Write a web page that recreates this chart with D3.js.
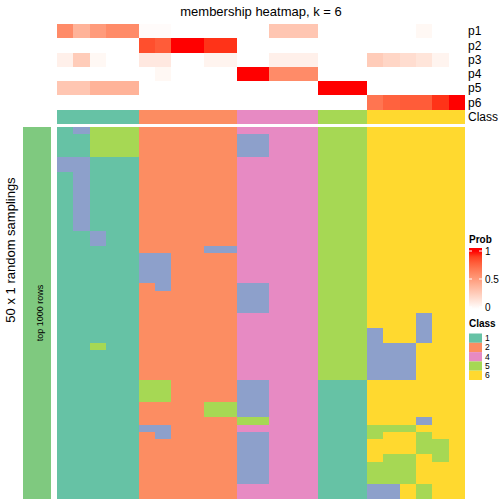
<!DOCTYPE html>
<html><head><meta charset="utf-8">
<script src="https://cdn.jsdelivr.net/npm/d3@7"></script>
<style>html,body{margin:0;padding:0;background:#fff}svg{display:block;font-family:"Liberation Sans",Arial,Helvetica,sans-serif}</style>
</head><body><svg id="chart" width="504" height="504"></svg>
<script>
// ---------- data ----------
const title = "membership heatmap, k = 6";
const probRows = ["p1","p2","p3","p4","p5","p6"];
const p1 = [0.60,0.40,0.52,0.60,0.60, 0.02,0.02,0,0,0,0, 0,0,0.30,0.30,0.30, 0,0,0, 0,0,0,0.04,0,0];
const p2 = [0,0,0,0,0, 0.85,0.80,1,1,0.93,0.93, 0,0,0,0,0, 0,0,0, 0,0,0,0,0,0];
const p3 = [0.08,0.27,0.04,0,0, 0.12,0.12,0,0,0.06,0.06, 0,0,0.08,0.08,0.08, 0,0,0, 0.27,0.22,0.18,0.14,0.06,0];
const p4 = [0,0,0,0,0, 0,0.04,0,0,0,0, 1,1,0.60,0.60,0.60, 0,0,0, 0,0,0,0,0,0];
const p5 = [0.30,0.30,0.40,0.40,0.40, 0,0,0,0,0,0, 0,0,0,0,0, 1,1,1, 0,0,0,0,0,0];
const p6 = [0,0,0,0,0, 0,0,0,0,0,0, 0,0,0,0,0, 0,0,0, 0.70,0.78,0.80,0.80,0.93,1];
const classRow = [1,1,1,1,1, 2,2,2,2,2,2, 4,4,4,4,4, 5,5,5, 6,6,6,6,6,6];
// 50 random samplings x 25 samples (class per cell)
const samplings = [
"13555"+"222222"+"44444"+"555"+"666666",
"11555"+"222222"+"33444"+"555"+"666666",
"11555"+"222222"+"33444"+"555"+"666666",
"11555"+"222222"+"33444"+"555"+"666666",
"33111"+"222222"+"44444"+"555"+"666666",
"33111"+"222222"+"44444"+"555"+"666666",
"13111"+"222222"+"44444"+"555"+"666666",
"13111"+"222222"+"44444"+"555"+"666666",
"13111"+"222222"+"44444"+"555"+"666666",
"13111"+"222222"+"44444"+"555"+"666666",
"13111"+"222222"+"44444"+"555"+"666666",
"13111"+"222222"+"44444"+"555"+"666666",
"13111"+"222222"+"44444"+"555"+"666666",
"13111"+"222222"+"44444"+"555"+"666666",
"11311"+"222222"+"44444"+"555"+"666666",
"11311"+"222222"+"44444"+"555"+"666666",
"11111"+"222233"+"44444"+"555"+"666666",
"11111"+"332222"+"44444"+"555"+"666666",
"11111"+"332222"+"44444"+"555"+"666666",
"11111"+"332222"+"44444"+"555"+"666666",
"11111"+"332222"+"44444"+"555"+"666666",
"11111"+"232222"+"33444"+"555"+"666666",
"11111"+"222222"+"33444"+"555"+"666666",
"11111"+"222222"+"33444"+"555"+"666666",
"11111"+"222222"+"33444"+"555"+"666666",
"11111"+"222222"+"44444"+"555"+"666366",
"11111"+"222222"+"44444"+"555"+"666366",
"11111"+"222222"+"44444"+"555"+"366366",
"11111"+"222222"+"44444"+"555"+"366366",
"11511"+"222222"+"44444"+"555"+"333666",
"11111"+"222222"+"44444"+"555"+"333666",
"11111"+"222222"+"44444"+"555"+"333666",
"11111"+"222222"+"44444"+"555"+"333666",
"11111"+"222222"+"44444"+"555"+"333666",
"11111"+"552222"+"33444"+"111"+"666666",
"11111"+"552222"+"33444"+"111"+"666666",
"11111"+"552222"+"33444"+"111"+"666666",
"11111"+"222255"+"33444"+"111"+"666666",
"11111"+"222255"+"33444"+"111"+"666666",
"11111"+"222222"+"55444"+"111"+"666366",
"11111"+"332222"+"44444"+"111"+"555666",
"11111"+"232222"+"33444"+"111"+"566566",
"11111"+"222222"+"33444"+"111"+"666556",
"11111"+"222222"+"33444"+"111"+"666556",
"11111"+"222222"+"33444"+"111"+"655656",
"11111"+"222222"+"33444"+"111"+"555666",
"11111"+"222222"+"33444"+"111"+"555666",
"11111"+"222222"+"33444"+"111"+"555666",
"11111"+"222222"+"44444"+"111"+"336566",
"11111"+"222222"+"44444"+"111"+"336566"
];
const classKeys = [1,2,3,4,5,6];
const classColors = ["#66C2A5","#FC8D62","#8DA0CB","#E78AC3","#A6D854","#FFD92F"];
const legendClasses = [1,2,4,5,6];
const probTicks = [1,0.5,0];
const rowTitle = "50 x 1 random samplings";
const sideLabel = "top 1000 rows";

// ---------- drawing ----------
const svg = d3.select("#chart");
const nCol = classRow.length;
const cols = d3.range(nCol);
const x = d3.scaleBand().domain(cols).range([57,465]).padding(0);
const yProb = d3.scaleBand().domain(probRows).range([24,109.5]).padding(0);
const yClassTop = [110,124];
const ySamp = d3.scaleBand().domain(d3.range(samplings.length)).range([127,499]).padding(0);
const probColor = d3.scaleLinear().domain([0,1]).range(["#ffffff","#ff0000"]).interpolate(d3.interpolateLab);
const classColor = d3.scaleOrdinal().domain(classKeys).range(classColors);

svg.append("text").attr("x",261).attr("y",16).attr("text-anchor","middle")
  .attr("font-size",13).attr("fill","#000").text(title);

// probability rows
const probData = [p1,p2,p3,p4,p5,p6];
const gP = svg.append("g").attr("shape-rendering","crispEdges");
probData.forEach((arr,ri)=>{
  gP.selectAll(null).data(arr).enter().append("rect")
    .attr("x",(d,i)=>x(i)).attr("width",x.bandwidth())
    .attr("y",yProb(probRows[ri])).attr("height",yProb.bandwidth())
    .attr("fill",d=>probColor(d));
});
// class row
gP.selectAll(null).data(classRow).enter().append("rect")
  .attr("x",(d,i)=>x(i)).attr("width",x.bandwidth())
  .attr("y",yClassTop[0]).attr("height",yClassTop[1]-yClassTop[0])
  .attr("fill",d=>classColor(d));

// row labels
const labG = svg.append("g").attr("font-size",12).attr("fill","#000");
probRows.forEach(r=>{
  labG.append("text").attr("x",468).attr("y",yProb(r)+yProb.bandwidth()/2)
    .attr("dy","0.35em").text(r);
});
labG.append("text").attr("x",468).attr("y",(yClassTop[0]+yClassTop[1])/2).attr("dy","0.35em").text("Class");

// samplings block
const gS = svg.append("g").attr("shape-rendering","crispEdges");
samplings.forEach((s,ri)=>{
  const vals = s.split("").map(Number);
  gS.selectAll(null).data(vals).enter().append("rect")
    .attr("x",(d,i)=>x(i)).attr("width",x.bandwidth())
    .attr("y",ySamp(ri)).attr("height",ySamp.bandwidth())
    .attr("fill",d=>classColor(d));
});

// left side bar
svg.append("rect").attr("x",23).attr("y",127).attr("width",28).attr("height",372).attr("fill","#7FC97F");
svg.append("text").attr("transform","translate(40,313) rotate(-90)")
  .attr("text-anchor","middle").attr("font-size",9).attr("dy","0.35em").text(sideLabel);
svg.append("text").attr("transform","translate(10,250) rotate(-90)")
  .attr("text-anchor","middle").attr("font-size",13).attr("dy","0.35em").text(rowTitle);

// Prob legend
const lg = svg.append("g");
lg.append("text").attr("x",469).attr("y",243).attr("font-size",10).attr("font-weight","bold").text("Prob");
const yLeg = d3.scaleLinear().domain([0,1]).range([307,251]);
const defs = svg.append("defs");
const grad = defs.append("linearGradient").attr("id","pg").attr("x1",0).attr("x2",0).attr("y1",1).attr("y2",0);
d3.range(0,1.0001,0.1).forEach(t=>grad.append("stop").attr("offset",t).attr("stop-color",probColor(t)));
lg.append("rect").attr("x",469).attr("y",248).attr("width",13).attr("height",61).attr("fill",probColor(1));
lg.append("rect").attr("x",469).attr("y",yLeg(1)).attr("width",13).attr("height",yLeg(0)-yLeg(1)+2).attr("fill","url(#pg)");
probTicks.forEach(t=>{
  lg.append("line").attr("x1",469).attr("x2",472).attr("y1",yLeg(t)).attr("y2",yLeg(t)).attr("stroke","#fff").attr("stroke-width",1);
  lg.append("line").attr("x1",479).attr("x2",482).attr("y1",yLeg(t)).attr("y2",yLeg(t)).attr("stroke","#fff").attr("stroke-width",1);
  lg.append("text").attr("x",485).attr("y",yLeg(t)).attr("dy","0.35em").attr("font-size",10).text(String(t));
});

// Class legend
lg.append("text").attr("x",469).attr("y",327).attr("font-size",10).attr("font-weight","bold").text("Class");
const yCl = d3.scaleBand().domain(legendClasses).range([333.5,380]);
legendClasses.forEach(c=>{
  lg.append("rect").attr("x",469).attr("y",yCl(c)).attr("width",13).attr("height",yCl.bandwidth()).attr("fill",classColor(c));
  lg.append("text").attr("x",485).attr("y",yCl(c)+yCl.bandwidth()/2).attr("dy","0.33em").attr("font-size",8.5).text(String(c));
});
</script></body></html>
